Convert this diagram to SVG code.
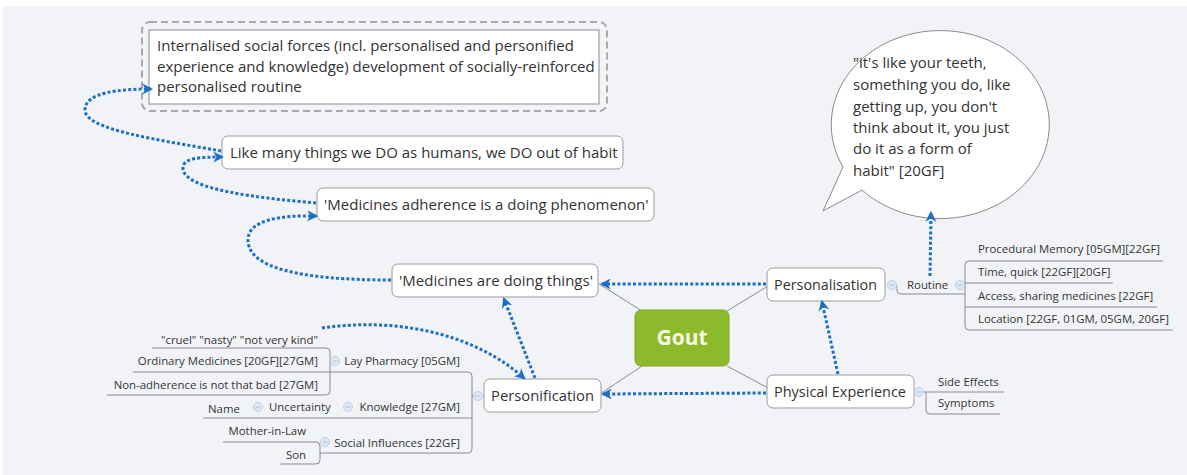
<svg xmlns="http://www.w3.org/2000/svg" width="1187" height="475" viewBox="0 0 1187 475">
<defs>
<style>
.box{fill:#ffffff;stroke:#9a9a9a;stroke-width:1}
.t{font-family:"Open Sans","Noto Sans",sans-serif;font-size:15px;fill:#333333}
.s{font-family:"Open Sans","Noto Sans",sans-serif;font-size:11.4px;fill:#333333}
.ln{fill:none;stroke:#8a8a8a;stroke-width:1}
.rel{fill:none;stroke:#1b6fc6;stroke-width:3;stroke-dasharray:3 2.2}
.cc{fill:#dfe9f5;stroke:#b8cde6;stroke-width:1}
.cm{stroke:#a9c0dd;stroke-width:1}
</style>
<marker id="arr" viewBox="0 0 10 10" refX="8" refY="5" markerWidth="11" markerHeight="11" markerUnits="userSpaceOnUse" orient="auto">
<path d="M0,0 L10,5 L0,10 L3,5 Z" fill="#1b6fc6"/>
</marker>
</defs>
<rect x="0" y="0" width="1187" height="475" fill="#ffffff"/>
<rect x="3" y="6" width="1184" height="469" fill="#f2f3f7"/>

<g id="branch-lines">
<path class="ln" d="M642,311 L599,284 M642,366 L600,394 M727,311 L768,286 M727,366 L768,388"/>
<path class="ln" d="M896,285 Q897,285 897,288 L897,290 Q897,294 901,294 L965,294"/>
<path class="ln" d="M1163,261 L969,261 Q965,261 965,265 L965,326 Q965,330 969,330 L1173,330 M965,283 L1113,283 M965,307 L1157,307"/>
<path class="ln" d="M923,392 L1004,392 M926,392 L926,410 Q926,414 930,414 L1000,414"/>
<path class="ln" d="M474,396 L472,396 M133,372 L468,372 Q472,372 472,376 L472,449 Q472,453 468,453 L320,453 M203,418 L472,418"/>
<path class="ln" d="M152,348 L326,348 Q330,348 330,352 L330,391 Q330,395 326,395 L107,395"/>
<path class="ln" d="M223,442 L316,442 Q320,442 320,446 L320,460 Q320,464 316,464 L280,464"/>
</g>

<g id="internalised">
<rect x="142" y="22" width="465" height="89" rx="8" fill="none" stroke="#a8a8a8" stroke-width="2" stroke-dasharray="7 4"/>
<rect x="149" y="30" width="450" height="74" fill="#ffffff" stroke="#8a8a8a" stroke-width="1"/>
<text class="t" x="157" y="51">Internalised social forces (incl. personalised and personified</text>
<text class="t" x="157" y="72">experience and knowledge) development of socially-reinforced</text>
<text class="t" x="157" y="92">personalised routine</text>
</g>

<g id="like-many">
<rect class="box" x="222" y="136" width="401" height="33" rx="6"/>
<text class="t" x="230" y="158">Like many things we DO as humans, we DO out of habit</text>
</g>

<g id="adherence">
<rect class="box" x="317" y="188" width="337" height="33" rx="6"/>
<text class="t" x="324" y="210">'Medicines adherence is a doing phenomenon'</text>
</g>

<g id="doing-things">
<rect class="box" x="392" y="264" width="206" height="33" rx="6"/>
<text class="t" x="399" y="286">'Medicines are doing things'</text>
</g>

<g id="gout">
<rect x="635" y="310" width="94" height="56" rx="6" fill="#8dba2b" stroke="#7fa826" stroke-width="1"/>
<text x="682" y="345" text-anchor="middle" font-family="'Open Sans','Noto Sans',sans-serif" font-size="21" font-weight="bold" fill="#f6f9e6">Gout</text>
</g>

<g id="personalisation">
<rect class="box" x="767" y="268" width="118" height="33" rx="6"/>
<text class="t" x="774" y="290" textLength="103" lengthAdjust="spacingAndGlyphs">Personalisation</text>
<circle class="cc" cx="892" cy="285" r="4.5"/><line class="cm" x1="889.5" y1="285" x2="894.5" y2="285"/>
</g>

<g id="routine">
<text class="s" x="907" y="289">Routine</text>
<circle class="cc" cx="960" cy="285" r="4.5"/><line class="cm" x1="957.5" y1="285" x2="962.5" y2="285"/>
<text class="s" x="978" y="253">Procedural Memory [05GM][22GF]</text>
<text class="s" x="978" y="276">Time, quick [22GF][20GF]</text>
<text class="s" x="978" y="300">Access, sharing medicines [22GF]</text>
<text class="s" x="978" y="323">Location [22GF, 01GM, 05GM, 20GF]</text>
</g>

<g id="physical">
<rect class="box" x="767" y="375" width="147" height="33" rx="6"/>
<text class="t" x="774" y="397" textLength="132" lengthAdjust="spacingAndGlyphs">Physical Experience</text>
<circle class="cc" cx="919" cy="392" r="4.5"/><line class="cm" x1="916.5" y1="392" x2="921.5" y2="392"/>
<text class="s" x="938" y="386">Side Effects</text>
<text class="s" x="938" y="407">Symptoms</text>
</g>

<g id="personification">
<rect class="box" x="484" y="379" width="117" height="33" rx="6"/>
<text class="t" x="491" y="401" textLength="103" lengthAdjust="spacingAndGlyphs">Personification</text>
<circle class="cc" cx="478" cy="396" r="4.5"/><line class="cm" x1="475.5" y1="396" x2="480.5" y2="396"/>
</g>

<g id="lay-pharmacy">
<text class="s" x="460" y="365" text-anchor="end">Lay Pharmacy [05GM]</text>
<circle class="cc" cx="335" cy="361" r="4.5"/><line class="cm" x1="332.5" y1="361" x2="337.5" y2="361"/>
<text class="s" x="318" y="344" text-anchor="end">"cruel" "nasty" "not very kind"</text>
<text class="s" x="318" y="365" text-anchor="end">Ordinary Medicines [20GF][27GM]</text>
<text class="s" x="318" y="389" text-anchor="end">Non-adherence is not that bad [27GM]</text>
</g>

<g id="knowledge">
<text class="s" x="460" y="411" text-anchor="end">Knowledge [27GM]</text>
<circle class="cc" cx="348" cy="407" r="4.5"/><line class="cm" x1="345.5" y1="407" x2="350.5" y2="407"/>
<text class="s" x="269" y="411">Uncertainty</text>
<circle class="cc" cx="258" cy="407" r="4.5"/><line class="cm" x1="255.5" y1="407" x2="260.5" y2="407"/>
<text class="s" x="208" y="413">Name</text>
</g>

<g id="social">
<text class="s" x="460" y="447" text-anchor="end">Social Influences [22GF]</text>
<circle class="cc" cx="325" cy="442" r="4.5"/><line class="cm" x1="322.5" y1="442" x2="327.5" y2="442"/>
<text class="s" x="306" y="435" text-anchor="end">Mother-in-Law</text>
<text class="s" x="306" y="459" text-anchor="end">Son</text>
</g>

<g id="bubble">
<path d="M843,167 L823,211 L862,190 A109,94 0 1 0 843,167 Z" fill="#ffffff" stroke="#8a8a8a" stroke-width="1"/>
<text class="t" x="853" y="68">"it's like your teeth,</text>
<text class="t" x="853" y="90">something you do, like</text>
<text class="t" x="853" y="112">getting up, you don't</text>
<text class="t" x="853" y="133">think about it, you just</text>
<text class="t" x="853" y="154">do it as a form of</text>
<text class="t" x="853" y="176">habit" [20GF]</text>
</g>

<g id="relationships">
<path class="rel" marker-end="url(#arr)" d="M766,284 L602,284"/>
<path class="rel" marker-end="url(#arr)" d="M766,393 L603,394"/>
<path class="rel" marker-end="url(#arr)" d="M838,374 L822,302"/>
<path class="rel" marker-end="url(#arr)" d="M930,276 L931,213"/>
<path class="rel" marker-end="url(#arr)" d="M535,378 L504,299"/>
<path class="rel" marker-end="url(#arr)" d="M322,328 C390,318 470,330 524,378"/>
<path class="rel" marker-end="url(#arr)" d="M391,280 C300,280 248,268 248,240 C248,220 280,215 316,216"/>
<path class="rel" marker-end="url(#arr)" d="M316,203 C260,198 183,190 183,168 C183,158 200,157 222,157"/>
<path class="rel" marker-end="url(#arr)" d="M221,151 C160,140 85,130 85,110 C85,92 120,89 151,89"/>
</g>
</svg>
